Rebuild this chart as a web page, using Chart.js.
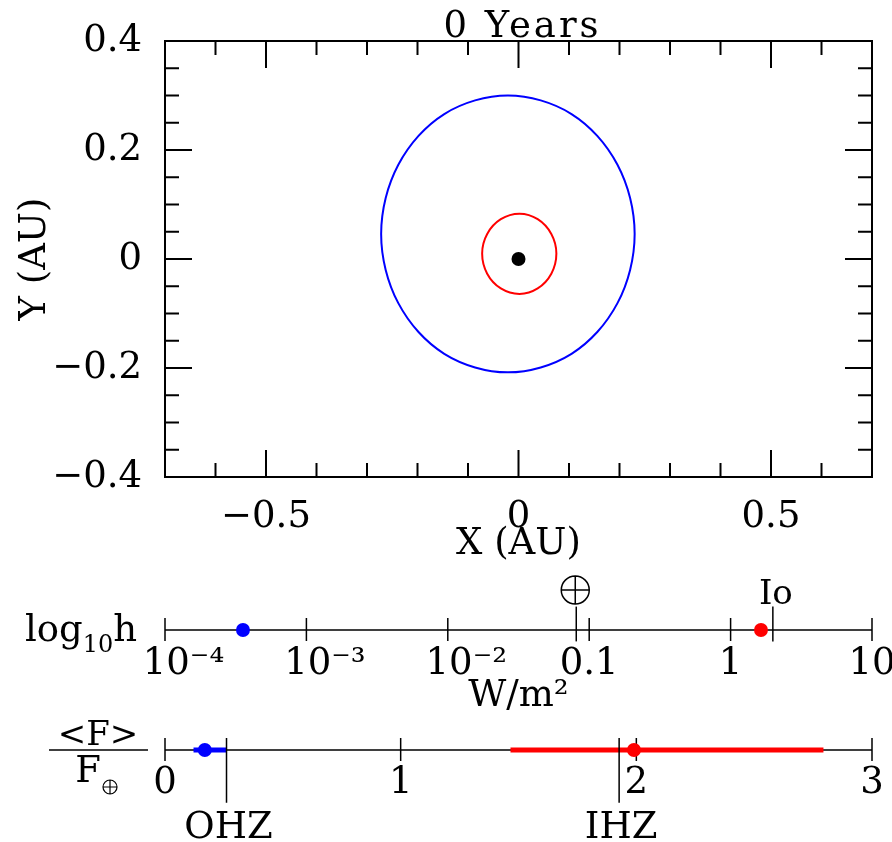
<!DOCTYPE html>
<html>
<head>
<meta charset="utf-8">
<script src="https://cdn.jsdelivr.net/npm/chart.js@4.4.0/dist/chart.umd.min.js"></script>
<style>
  html, body { margin: 0; padding: 0; background: #fff; }
  #page { position: relative; width: 892px; height: 842px; overflow: hidden; }
  canvas { position: absolute; left: 0; }
</style>
</head>
<body>
<div id="page">
  <canvas id="orbit-chart" width="892" height="570" style="top:0"></canvas>
  <canvas id="heat-chart" width="892" height="150" style="top:570px"></canvas>
  <canvas id="flux-chart" width="892" height="142" style="top:700px"></canvas>
</div>
<script>
// Orbit panel: planet paths in AU
const outerOrbitX = [0.230, 0.221, 0.196, 0.156, 0.105, 0.044, -0.021, -0.086, -0.147, -0.198, -0.238, -0.263,
  -0.272, -0.263, -0.238, -0.198, -0.147, -0.086, -0.021, 0.044, 0.105, 0.156, 0.196, 0.221, 0.230];
const outerOrbitY = [0.046, 0.112, 0.173, 0.226, 0.266, 0.291, 0.300, 0.291, 0.266, 0.226, 0.173, 0.112,
  0.046, -0.020, -0.081, -0.134, -0.174, -0.199, -0.208, -0.199, -0.174, -0.134, -0.081, -0.020, 0.046];
const innerOrbitX = [0.075, 0.065, 0.038, 0.002, -0.035, -0.062, -0.072, -0.062, -0.035, 0.002, 0.038, 0.065, 0.075];
const innerOrbitY = [0.010, 0.046, 0.073, 0.083, 0.073, 0.046, 0.010, -0.027, -0.054, -0.064, -0.054, -0.027, 0.010];
const starX = [0];
const starY = [0];
const plotTitle = '0 Years';

// Orbit panel ticks
const xLabelTicks = [-0.5, 0, 0.5];
const xMinorTicks = [-0.6, -0.4, -0.3, -0.2, -0.1, 0.1, 0.2, 0.3, 0.4, 0.6];
const yLabelTicks = [-0.4, -0.2, 0, 0.2, 0.4];
const yMinorTicks = [-0.35, -0.3, -0.25, -0.15, -0.1, -0.05, 0.05, 0.1, 0.15, 0.25, 0.3, 0.35];

// Tidal heat flux panel (W/m^2)
const heatTicks = [1e-4, 1e-3, 1e-2, 0.1, 1, 10];
const heatTickLabels = ['10⁻⁴', '10⁻³', '10⁻²', '0.1', '1', '10'];
const planetHeat = [3.56e-4, 1.64];   // outer (blue), inner (red)
const heatRefNames = ['⊕', 'Io'];
const heatRefValues = [0.081, 1.99];

// Mean stellar flux panel (<F> / F_earth)
const fluxTicks = [0, 1, 2, 3];
const planetFlux = [0.169, 1.99];
const planetFluxMin = [0.121, 1.466];
const planetFluxMax = [0.261, 2.794];
const hzNames = ['OHZ', 'IHZ'];
const hzValues = [0.261, 1.927];

const planetColors = ['#0000ff', '#ff0000'];

Chart.defaults.font.family = '"DejaVu Serif", serif';
Chart.defaults.font.size = 37;
Chart.defaults.color = '#000';

const toPoints = (xs, ys) => xs.map((x, i) => ({ x, y: ys[i] }));
const fmt = v => (v < 0 ? '\u2212' + Math.abs(v) : String(v));
const serif = size => size + 'px "DejaVu Serif", serif';

// Closed orbit: wrap one point on each side so the spline has no seam,
// then hide the two wrap segments
function orbitDataset(xs, ys, color) {
  const pts = toPoints(xs, ys);
  const data = [pts[pts.length - 2], ...pts, pts[1]];
  const last = data.length - 1;
  return {
    data,
    showLine: true, borderColor: color, borderWidth: 2,
    pointRadius: 0, tension: 0.35,
    segment: {
      borderColor: c => (c.p0DataIndex === 0 || c.p1DataIndex === last) ? 'rgba(0,0,0,0)' : undefined
    }
  };
}

// Boxed frame with inward ticks on all four sides, plus the title
const frameTicks = {
  id: 'frameTicks',
  afterDatasetsDraw(chart) {
    const { ctx, chartArea: a, scales: { x, y } } = chart;
    ctx.save();
    ctx.strokeStyle = '#000';
    ctx.lineWidth = 2;
    ctx.beginPath();
    ctx.rect(a.left, a.top, a.right - a.left, a.bottom - a.top);
    const vTick = (v, len) => {
      const px = x.getPixelForValue(v);
      ctx.moveTo(px, a.top); ctx.lineTo(px, a.top + len);
      ctx.moveTo(px, a.bottom); ctx.lineTo(px, a.bottom - len);
    };
    const hTick = (v, len) => {
      const py = y.getPixelForValue(v);
      ctx.moveTo(a.left, py); ctx.lineTo(a.left + len, py);
      ctx.moveTo(a.right, py); ctx.lineTo(a.right - len, py);
    };
    xMinorTicks.forEach(v => vTick(v, 14));
    xLabelTicks.forEach(v => vTick(v, 27));
    yMinorTicks.forEach(v => hTick(v, 14));
    yLabelTicks.forEach(v => hTick(v, 27));
    ctx.stroke();

    ctx.fillStyle = '#000';
    ctx.font = serif(37);
    ctx.letterSpacing = '3px';
    ctx.textAlign = 'center';
    ctx.textBaseline = 'alphabetic';
    ctx.fillText(plotTitle, (a.left + a.right) / 2 + 4, a.top - 4);
    ctx.restore();
  }
};

// Horizontal number line through y = 0 with ticks across it
const numberLine = {
  id: 'numberLine',
  beforeDatasetsDraw(chart) {
    const { ctx, chartArea: a, scales: { x, y } } = chart;
    const y0 = y.getPixelForValue(0);
    ctx.save();
    ctx.strokeStyle = '#000';
    ctx.lineWidth = 1.5;
    ctx.beginPath();
    ctx.moveTo(a.left, y0);
    ctx.lineTo(a.right, y0);
    x.ticks.forEach(t => {
      const px = x.getPixelForValue(t.value);
      ctx.moveTo(px, y0 - 12);
      ctx.lineTo(px, y0 + 11);
    });
    ctx.stroke();
    ctx.restore();
  }
};

function earthSymbol(ctx, cx, cy, r) {
  ctx.beginPath();
  ctx.arc(cx, cy, r, 0, 2 * Math.PI);
  ctx.moveTo(cx - r, cy); ctx.lineTo(cx + r, cy);
  ctx.moveTo(cx, cy - r); ctx.lineTo(cx, cy + r);
  ctx.stroke();
}

const heatLabels = {
  id: 'heatLabels',
  afterDraw(chart) {
    const { ctx, scales: { x, y } } = chart;
    const y0 = y.getPixelForValue(0);
    ctx.save();
    ctx.fillStyle = '#000';
    ctx.strokeStyle = '#000';
    ctx.lineWidth = 1.5;
    ctx.textBaseline = 'alphabetic';
    // axis name log10 h
    ctx.textAlign = 'left';
    let px = 25;
    ctx.font = serif(37);
    ctx.fillText('log', px, y0 + 11);
    px += ctx.measureText('log').width;
    ctx.font = serif(24);
    ctx.fillText('10', px, y0 + 22);
    px += ctx.measureText('10').width;
    ctx.font = serif(37);
    ctx.fillText('h', px, y0 + 11);
    // reference markers: Earth and Io
    earthSymbol(ctx, x.getPixelForValue(heatRefValues[0]) - 1, y0 - 40, 14);
    ctx.font = serif(34);
    ctx.textAlign = 'center';
    ctx.fillText(heatRefNames[1], x.getPixelForValue(heatRefValues[1]) + 3, y0 - 26);
    ctx.restore();
  }
};

const fluxLabels = {
  id: 'fluxLabels',
  afterDraw(chart) {
    const { ctx, scales: { x, y } } = chart;
    const y0 = y.getPixelForValue(0);
    ctx.save();
    ctx.fillStyle = '#000';
    ctx.strokeStyle = '#000';
    ctx.lineWidth = 1.5;
    ctx.textBaseline = 'alphabetic';
    ctx.textAlign = 'center';
    // fraction <F> / F_earth
    ctx.font = serif(34);
    ctx.fillText('<F>', 98, y0 - 5);
    ctx.beginPath();
    ctx.moveTo(49, y0); ctx.lineTo(148, y0);
    ctx.stroke();
    ctx.font = serif(37);
    ctx.fillText('F', 88, y0 + 32);
    ctx.lineWidth = 1.2;
    earthSymbol(ctx, 110, y0 + 37, 7);
    // habitable zone edges
    ctx.font = serif(37);
    hzValues.forEach((v, i) => {
      ctx.fillText(hzNames[i], x.getPixelForValue(v) + 2, y0 + 88);
    });
    ctx.restore();
  }
};

const quiet = {
  responsive: false,
  animation: false,
  events: []
};

// Orbit panel
new Chart(document.getElementById('orbit-chart'), {
  type: 'scatter',
  data: {
    datasets: [
      orbitDataset(outerOrbitX, outerOrbitY, planetColors[0]),
      orbitDataset(innerOrbitX, innerOrbitY, planetColors[1]),
      {
        data: toPoints(starX, starY),
        pointRadius: 7, pointBackgroundColor: '#000', pointBorderWidth: 0
      }
    ]
  },
  options: {
    ...quiet,
    layout: { padding: { left: 0, right: 20, top: 41, bottom: 0 } },
    plugins: { legend: { display: false }, tooltip: { enabled: false } },
    scales: {
      x: {
        type: 'linear', min: -0.7, max: 0.7,
        grid: { display: false, drawTicks: false },
        border: { display: false },
        afterBuildTicks: s => { s.ticks = xLabelTicks.map(v => ({ value: v })); },
        afterFit: s => { s.height = 93; s.paddingLeft = 0; s.paddingRight = 0; },
        ticks: { padding: 18, maxRotation: 0, autoSkip: false, callback: fmt },
        title: { display: true, text: 'X (AU)', font: { lineHeight: 1 }, padding: { top: 0, bottom: 7 } }
      },
      y: {
        type: 'linear', min: -0.4, max: 0.4,
        grid: { display: false, drawTicks: false },
        border: { display: false },
        afterBuildTicks: s => { s.ticks = yLabelTicks.map(v => ({ value: v })); },
        afterFit: s => { s.width = 165; s.paddingTop = 0; s.paddingBottom = 0; },
        ticks: { padding: 23, autoSkip: false, callback: fmt },
        title: { display: true, text: 'Y (AU)', font: { lineHeight: 1 }, padding: { top: 17, bottom: 0 } }
      }
    }
  },
  plugins: [frameTicks]
});

// Tidal heat flux panel
new Chart(document.getElementById('heat-chart'), {
  type: 'scatter',
  data: {
    datasets: [
      {
        data: planetHeat.map(v => ({ x: v, y: 0 })),
        pointRadius: 7, pointBackgroundColor: planetColors, pointBorderWidth: 0,
        clip: false, order: 0
      },
      ...heatRefValues.map(v => ({
        data: [{ x: v, y: -0.95 }, { x: v, y: 1.95 }],
        showLine: true, borderColor: '#000', borderWidth: 1.5, pointRadius: 0,
        clip: false, order: 1
      }))
    ]
  },
  options: {
    ...quiet,
    layout: { padding: { left: 165, right: 20, top: 48, bottom: 0 } },
    plugins: { legend: { display: false }, tooltip: { enabled: false } },
    scales: {
      x: {
        type: 'logarithmic', min: 1e-4, max: 10,
        grid: { display: false, drawTicks: false },
        border: { display: false },
        afterBuildTicks: s => { s.ticks = heatTicks.map(v => ({ value: v })); },
        afterFit: s => { s.height = 78; s.paddingLeft = 0; s.paddingRight = 0; },
        ticks: {
          padding: 0, maxRotation: 0, autoSkip: false,
          callback: (v, i) => (heatTickLabels[i].includes('⁻') ? '\u2003' : '') + heatTickLabels[i]
        },
        title: { display: true, text: 'W/m²', font: { lineHeight: 1 }, padding: { top: 0, bottom: 5 } }
      },
      y: { display: false, min: -1, max: 1 }
    }
  },
  plugins: [numberLine, heatLabels]
});

// Mean stellar flux panel
new Chart(document.getElementById('flux-chart'), {
  type: 'scatter',
  data: {
    datasets: [
      {
        data: planetFlux.map(v => ({ x: v, y: 0 })),
        pointRadius: 7, pointBackgroundColor: planetColors, pointBorderWidth: 0,
        clip: false, order: 0
      },
      ...hzValues.map(v => ({
        data: [{ x: v, y: 1 }, { x: v, y: -4.4 }],
        showLine: true, borderColor: '#000', borderWidth: 1.5, pointRadius: 0,
        clip: false, order: 1
      })),
      ...planetFluxMin.map((v, i) => ({
        data: [{ x: v, y: 0 }, { x: planetFluxMax[i], y: 0 }],
        showLine: true, borderColor: planetColors[i], borderWidth: 5, pointRadius: 0,
        clip: false, order: 2
      }))
    ]
  },
  options: {
    ...quiet,
    layout: { padding: { left: 165, right: 20, top: 38, bottom: 0 } },
    plugins: { legend: { display: false }, tooltip: { enabled: false } },
    scales: {
      x: {
        type: 'linear', min: 0, max: 3,
        grid: { display: false, drawTicks: false },
        border: { display: false },
        afterBuildTicks: s => { s.ticks = fluxTicks.map(v => ({ value: v })); },
        afterFit: s => { s.height = 80; s.paddingLeft = 0; s.paddingRight = 0; },
        ticks: { padding: -1, maxRotation: 0, autoSkip: false, callback: fmt }
      },
      y: { display: false, min: -1, max: 1 }
    }
  },
  plugins: [numberLine, fluxLabels]
});
</script>
</body>
</html>
